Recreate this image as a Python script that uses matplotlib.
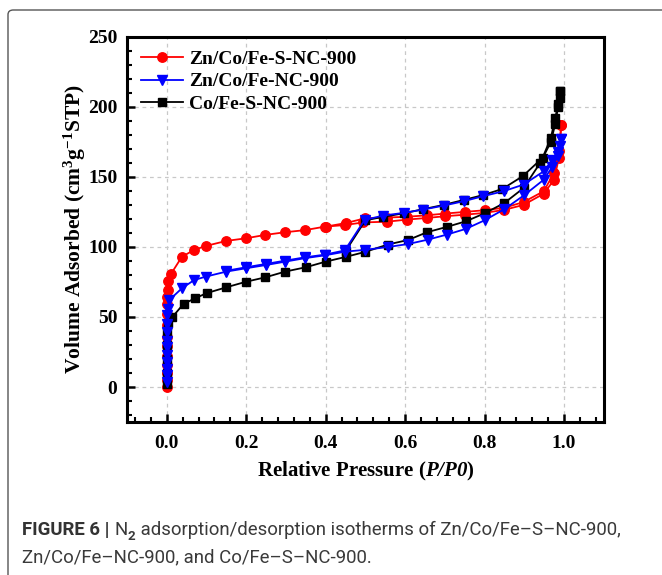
"""
n2 isotherm plot
"""
import numpy as np
import matplotlib
matplotlib.use('Agg')
import matplotlib.pyplot as plt
from matplotlib.patches import FancyBboxPatch
from matplotlib.ticker import MultipleLocator
# ------------------------Data---------------------------------------------------
# Zn/Co/Fe-S-NC-900
red_ads_x = [0.0, 0.0, 0.0, 0.0, 0.0, 0.0, 0.0, 0.0, 0.0, 0.0, 0.001, 0.002, 0.004, 0.01, 0.038,
             0.069, 0.098, 0.15, 0.2, 0.248, 0.298, 0.348, 0.398, 0.448, 0.494, 0.554, 0.604,
             0.655, 0.70, 0.75, 0.80, 0.85, 0.898, 0.949, 0.975, 0.987, 0.993]
red_ads_y = [0, 5, 10, 16, 22, 29, 36, 44, 52, 59, 64, 69, 76, 80.5, 93,
             97.9, 100.7, 104.3, 106.2, 108.6, 110.5, 112, 114.5, 115.6, 117.5, 118, 119.5,
             120.7, 121.9, 123, 124.3, 126.5, 130, 138, 148, 163.6, 186.7]
red_des_x = [0.993, 0.987, 0.975, 0.949, 0.898, 0.85, 0.8, 0.75, 0.70, 0.655, 0.604, 0.554,
             0.5, 0.45, 0.4]
red_des_y = [186.7, 168.3, 152.9, 139.8, 132, 128, 126.2, 125, 123.8, 122.6, 121.5, 121,
             120.5, 117, 114.5]
# Zn/Co/Fe-NC-900
blue_ads_x = [0.0, 0.0, 0.0, 0.0, 0.0, 0.0, 0.0, 0.0, 0.0, 0.0, 0.002, 0.006, 0.038, 0.069,
              0.098, 0.15, 0.2, 0.25, 0.298, 0.348, 0.398, 0.448, 0.498, 0.558, 0.608, 0.657,
              0.705, 0.753, 0.8, 0.85, 0.9, 0.949, 0.97, 0.985, 0.991, 0.993]
blue_ads_y = [3.6, 8.3, 13, 17.9, 22.6, 28.6, 33, 39.3, 45, 51.2, 56, 62, 70.5, 76.4,
              78.8, 82.4, 84.8, 87.1, 89.5, 92, 94, 96.6, 97.9, 100, 102.1, 105.2,
              108.8, 112.9, 119, 127, 137, 148, 157, 165, 172, 176.7]
blue_des_x = [0.993, 0.985, 0.97, 0.949, 0.898, 0.848, 0.796, 0.747, 0.697, 0.646, 0.596,
              0.545, 0.498, 0.448, 0.398, 0.348, 0.298, 0.25, 0.2, 0.15]
blue_des_y = [176.7, 168, 162, 154, 144.5, 139.8, 136.2, 132.6, 129.5, 126.7, 124.3,
              122.4, 119.3, 97.5, 94.5, 92.6, 90.2, 87.9, 85.5, 83]
# Co/Fe-S-NC-900
black_ads_x = [0.0, 0.0, 0.0, 0.0, 0.0, 0.002, 0.014, 0.042, 0.071, 0.1, 0.15, 0.2, 0.248,
               0.298, 0.35, 0.4, 0.452, 0.5, 0.556, 0.608, 0.655, 0.705, 0.753, 0.8, 0.85,
               0.898, 0.94, 0.967, 0.978, 0.985, 0.99]
black_ads_y = [2, 10, 20, 30, 40, 46, 50, 59.3, 63.3, 67, 71.2, 75.2, 78.3,
               82.4, 85.5, 89.5, 93, 96.5, 101.7, 105, 110.5, 114.3, 118.3, 124, 131.4,
               142, 160, 175, 188, 200, 211]
black_des_x = [0.99, 0.989, 0.985, 0.978, 0.967, 0.946, 0.896, 0.845, 0.796, 0.747, 0.697,
               0.646, 0.596, 0.545, 0.5, 0.45]
black_des_y = [211, 206, 202, 192, 178, 163.6, 150.5, 141.4, 137, 133.5, 130,
               127, 124, 121.5, 119, 97]
labels = ['Zn/Co/Fe-S-NC-900', 'Zn/Co/Fe-NC-900', 'Co/Fe-S-NC-900']
# ------------------------Style--------------------------------------------------
plt.rcParams['font.family'] = 'Liberation Serif'
plt.rcParams['font.weight'] = 'bold'
plt.rcParams['axes.labelweight'] = 'bold'
plt.rcParams['mathtext.fontset'] = 'custom'
plt.rcParams['mathtext.rm'] = 'Liberation Serif:bold'
plt.rcParams['mathtext.bf'] = 'Liberation Serif:bold'
plt.rcParams['mathtext.sf'] = 'Liberation Serif:italic:bold'
plt.rcParams['mathtext.default'] = 'bf'

fig = plt.figure(figsize=(6.62, 5.75), dpi=100)
ax = fig.add_axes([0.192, 0.266, 0.72, 0.670])

# frame around the figure panel (cropped at right/bottom)
frame = FancyBboxPatch((8/662, -0.1), 1.2, 1.1 - 10/575, transform=fig.transFigure,
                       boxstyle='round,pad=0,rounding_size=0.008', fc='none', ec='#555555',
                       lw=1.0, clip_on=False)
fig.add_artist(frame)

ms = 6.8
lw = 1.3
ax.plot(red_ads_x, red_ads_y, color='red', marker='o', ms=ms, lw=lw, label=labels[0], zorder=3)
ax.plot(red_des_x, red_des_y, color='red', marker='o', ms=ms, lw=lw, zorder=3)
ax.plot(black_ads_x, black_ads_y, color='black', marker='s', ms=ms - 0.6, lw=lw, label=labels[2], zorder=4)
ax.plot(black_des_x, black_des_y, color='black', marker='s', ms=ms - 0.6, lw=lw, zorder=4)
ax.plot(blue_ads_x, blue_ads_y, color='blue', marker='v', ms=ms + 0.8, lw=lw, label=labels[1], zorder=5)
ax.plot(blue_des_x, blue_des_y, color='blue', marker='v', ms=ms + 0.8, lw=lw, zorder=5)

ax.set_xlim(-0.1, 1.1)
ax.set_ylim(-25, 250)
ax.set_xticks([0.0, 0.2, 0.4, 0.6, 0.8, 1.0])
ax.set_yticks([0, 50, 100, 150, 200, 250])
ax.xaxis.set_minor_locator(MultipleLocator(0.04))
ax.yaxis.set_minor_locator(MultipleLocator(10))
ax.tick_params(which='major', direction='in', length=6, width=1.8, labelsize=14, pad=7)
ax.tick_params(which='minor', direction='in', length=3.5, width=1.5)
ax.tick_params(axis='x', pad=9)
for s in ax.spines.values():
    s.set_linewidth(2.2)
ax.grid(True, which='major', ls=(0, (3, 3)), color='#c8c8c8', lw=0.9)
ax.set_axisbelow(True)

ax.set_xlabel(r'Relative Pressure ($\mathsf{P/P0}$)', fontsize=15, labelpad=6)
ax.set_ylabel(r'Volume Adsorbed (cm$^{3}$g$^{-1}$STP)', fontsize=15.5, labelpad=0)

h, l = ax.get_legend_handles_labels()
order = [0, 2, 1]
leg = ax.legend([h[i] for i in order], [l[i] for i in order], loc='upper left',
                frameon=False, fontsize=14, handlelength=2.2, handletextpad=0.3,
                labelspacing=0.25, borderaxespad=0.3, bbox_to_anchor=(0.0, 1.0))

# ------------------------Caption-------------------------------------------------
cfs = 13.4
cap_kw = dict(fontfamily='Roboto', fontsize=cfs, color='#3a3a3a', fontweight='normal')
t0 = fig.text(22/662, 1 - 535/575, 'FIGURE 6 | ', fontfamily='Roboto', fontsize=cfs,
              color='#333333', fontweight='bold', va='baseline')
t1 = ax.annotate('N', xy=(1, 0), xycoords=t0, va='bottom', annotation_clip=False, **cap_kw)
t2 = ax.annotate('2', xy=(1, 0), xycoords=t1, xytext=(0, -3), textcoords='offset points',
                 va='bottom', annotation_clip=False, fontfamily='Roboto', fontsize=9.5,
                 color='#3a3a3a')
t3 = ax.annotate(' adsorption/desorption isotherms of Zn/Co/Fe\u2013S\u2013NC-900,',
                 xy=(1, 0), xycoords=t1, xytext=(6.5, 0), textcoords='offset points',
                 va='bottom', annotation_clip=False, **cap_kw)
fig.text(22/662, 1 - 562/575, 'Zn/Co/Fe\u2013NC-900, and Co/Fe\u2013S\u2013NC-900.',
         va='baseline', **cap_kw)

plt.savefig('out.png', dpi=100)
